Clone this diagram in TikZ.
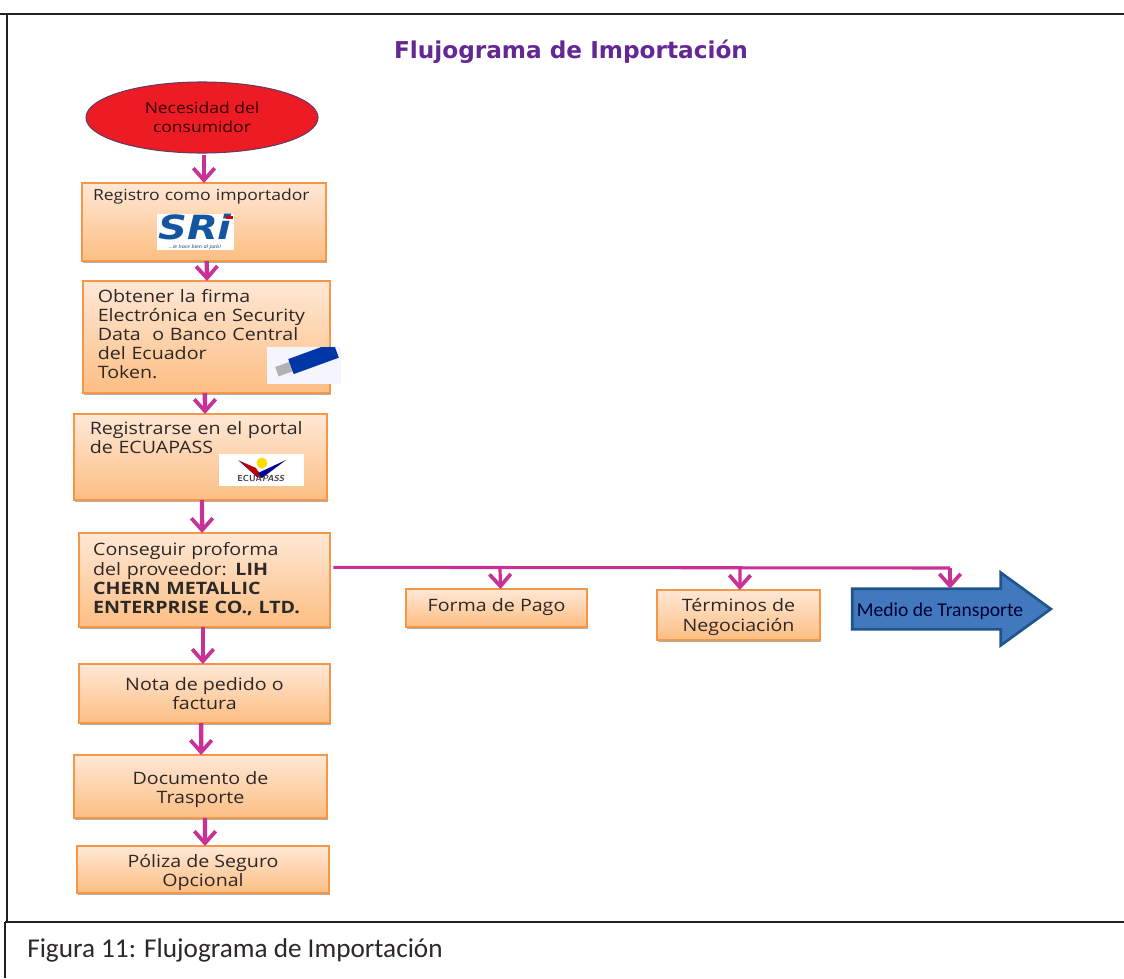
\documentclass[tikz,border=0pt]{standalone}
\usepackage{fontspec}
\setmainfont[FakeStretch=1.15]{Open Sans}
\newfontfamily\titlefont{DejaVu Sans}
\newfontfamily\capfont{Carlito}
\usetikzlibrary{shapes.geometric,shapes.arrows,shadows,arrows.meta,calc}
\definecolor{linkc}{RGB}{200,50,150}
\definecolor{boxedge}{RGB}{247,150,70}
\definecolor{boxtop}{RGB}{255,232,214}
\definecolor{boxbot}{RGB}{252,190,130}
\definecolor{titlec}{RGB}{100,40,150}
\definecolor{framec}{RGB}{35,31,32}
\definecolor{txtc}{RGB}{45,40,40}
\definecolor{arrowfill}{RGB}{65,120,190}
\definecolor{arrowedge}{RGB}{30,85,140}
\definecolor{srib}{RGB}{20,85,160}
\tikzset{
  geom/.style n args={4}{at={({(#1+#2)/2},{(#3+#4)/2})},
    minimum width={(#2-#1)*.75pt},minimum height={(#4-#3)*.75pt}},
  box/.style={rectangle,draw=boxedge,line width=1.1pt,top color=boxtop,bottom color=boxbot,
    outer sep=0pt,inner sep=0pt,text=txtc,font=\fontsize{12.8}{14.6}\selectfont,
    drop shadow={shadow xshift=.8pt,shadow yshift=-1.8pt,opacity=.45,fill=black!70}},
  lbox/.style={box,align=left,text width=#1},
  cbox/.style={box,align=center},
  link/.style={draw=linkc,line width=3.3pt,-{Straight Barb[length=9pt,width=16pt,line width=2.8pt]}},
  trunk/.style={draw=linkc,line width=2.3pt},
  logo/.style={rectangle,fill=white,inner sep=0pt,outer sep=0pt},
  frameline/.style={draw=framec,line width=2.2pt},
  nub/.style={draw=boxedge,line width=2.2pt},
}
\begin{document}
\begin{tikzpicture}[x=.75pt,y=-.75pt]
\useasboundingbox (0,0) rectangle (1124,978);
\fill[white] (0,0) rectangle (1124,978);
% frame
\draw[frameline] (0,14) -- (1124,14);
\draw[frameline] (7,14) -- (7,922);
\draw[frameline] (5,922) -- (1124,922);
\draw[frameline] (5,922) -- (5,978);
\node[font=\titlefont\bfseries\fontsize{17.4}{20}\selectfont,text=titlec] (title) at (571,52) {Flujograma de Importación};
\node[font=\capfont\fontsize{20.4}{24}\selectfont,text=txtc,anchor=west,inner sep=0pt] (caption) at (27,950) {Figura 11: Flujograma de Importación};

% nodes
\node[ellipse,draw=arrowedge!70!red,line width=.8pt,fill={rgb,255:red,237;green,28;blue,36},geom={86}{318}{82}{153},align=center,
  inner sep=0pt,text=black!80!red,font=\fontsize{11.4}{14.4}\selectfont] (need) {Necesidad del\\consumidor};
\node[lbox=166.5pt,geom={82}{326}{183}{261},font=\fontsize{11.45}{14.6}\selectfont] (reg) {Registro como importador\\[27pt]\mbox{}};
\node[lbox=163pt,geom={83}{330}{281}{393},font=\fontsize{12.8}{14.3}\selectfont] (firma) {Obtener la firma\\Electrónica en Security\\Data\ \ o Banco Central\\del Ecuador\\Token.\\[-9.3pt]\mbox{}};
\node[lbox=166pt,geom={74}{327}{414}{500}] (ecua) {Registrarse en el portal\\de ECUAPASS\\[15pt]\mbox{}};
\node[lbox=167pt,geom={79}{330}{533}{627},font=\fontsize{12.8}{14.3}\selectfont] (prof) {Conseguir proforma\\del proveedor: \textbf{LIH}\\\textbf{CHERN METALLIC}\\\textbf{ENTERPRISE CO., LTD.}\\[-11.3pt]\mbox{}};
\node[cbox,geom={79}{330}{664}{723}] (nota) {Nota de pedido o\\factura};
\node[cbox,geom={74}{327}{755}{818}] (doc) {\rule{0pt}{14pt}Documento de\\Trasporte};
\node[cbox,geom={77}{329}{846}{893}] (poliza) {\rule{0pt}{14pt}Póliza de Seguro\\Opcional};
\node[cbox,geom={406}{587}{589}{627}] (pago) {\raisebox{4.5pt}{Forma de Pago}};
\node[cbox,geom={657}{820}{590}{640}] (term) {\rule{0pt}{12.5pt}Términos de\\Negociación};
\node[single arrow,draw=arrowedge,line width=2pt,fill=arrowfill,
  single arrow head extend=12pt,single arrow tip angle=72,
  minimum height=149pt,inner xsep=0pt,inner ysep=14.25pt,outer sep=0pt] (med) at (937.5,609) {};
\node[font=\capfont\fontsize{14.7}{16}\selectfont,text=black!80!blue,inner sep=0pt] (medt) at (940,611) {Medio de Transporte};

% logos
\node[logo,minimum width=57.8pt,minimum height=27pt] (sri) at (195.5,232) {};
\node[font=\titlefont\bfseries\itshape\fontsize{25}{25}\selectfont,text=srib,inner sep=0pt,xscale=1.2] (srit) at (195,227) {SRi};
\fill[red!85!black] (226,216) rectangle (233,219);
\node[font=\itshape\fontsize{3.6}{4}\selectfont,text=srib!70!black,inner sep=0pt] (srisub) at (195,247.5) {...le hace bien al país!};

\node[logo,minimum width=55.5pt,minimum height=27.8pt] (usb) at (304,365.5) {};
\begin{scope}
\clip (267,347) rectangle (341,384);
\fill[blue!4] (267,347) rectangle (341,384);
\fill[gray!60,rotate around={20:(312,360)}] (275,354) rectangle (292,364);
\fill[black!10!blue!70!cyan!70!black,rotate around={20:(312,360)}] (290,351) rectangle (338,367);
\end{scope}

\node[logo,minimum width=63.8pt,minimum height=24pt] (ecl) at (261.5,470) {};
\fill[blue!65!black] (238,460) -- (257,477) -- (259,472) -- cycle;
\fill[red!75!black] (240,461) -- (257,477) -- (262,478) -- (256,468) -- cycle;
\fill[blue!60!black] (286,460) -- (262,478) -- (258,473) -- cycle;
\fill[yellow!80!orange] (262,463) circle (5.5);
\node[font=\sffamily\bfseries\fontsize{6.5}{7}\selectfont,text=black!75,inner sep=0pt] (eclt) at (261,478) {ECUA\textit{PASS}};

% details
\draw[nub] ([xshift=-19pt]doc.south) -- ([xshift=27pt]doc.south);
\draw[nub] ([xshift=-21pt]poliza.north) -- ([xshift=25pt]poliza.north);
\draw[nub] ([yshift=3pt]prof.east) ++(0,5) -- ++(0,-15);

% connectors
\draw[link] ([yshift=-1pt]need.south) ++(2,0) -- (reg.north);
\draw[link] ([xshift=2pt]reg.south) -- ([xshift=.4pt]firma.north);
\draw[link] ([xshift=-1.2pt]firma.south) -- ([xshift=3.4pt]ecua.north);
\draw[link] ([xshift=1.1pt]ecua.south) -- ([xshift=-1.8pt]prof.north);
\draw[link] ([xshift=-1.2pt]prof.south) -- ([xshift=-1.2pt]nota.north);
\draw[link] ([xshift=-2.5pt]nota.south) -- ([xshift=.4pt]doc.north);
\draw[link] ([xshift=3.4pt]doc.south) -- ([xshift=1.5pt]poliza.north);
\coordinate (corner) at (950,568);
\draw[trunk] ([xshift=2.5pt,yshift=9.5pt]prof.east) -- (corner);
\draw[link,line width=2.4pt] (pago.north |- corner) ++(3.5,0) -- ([xshift=3pt]pago.north);
\draw[link,line width=2.4pt] (term.north |- corner) ++(1.5,0) -- ([xshift=1pt]term.north);
\draw[link,line width=2.4pt] (corner) -- (corner |- med.before head);
\end{tikzpicture}
\end{document}
